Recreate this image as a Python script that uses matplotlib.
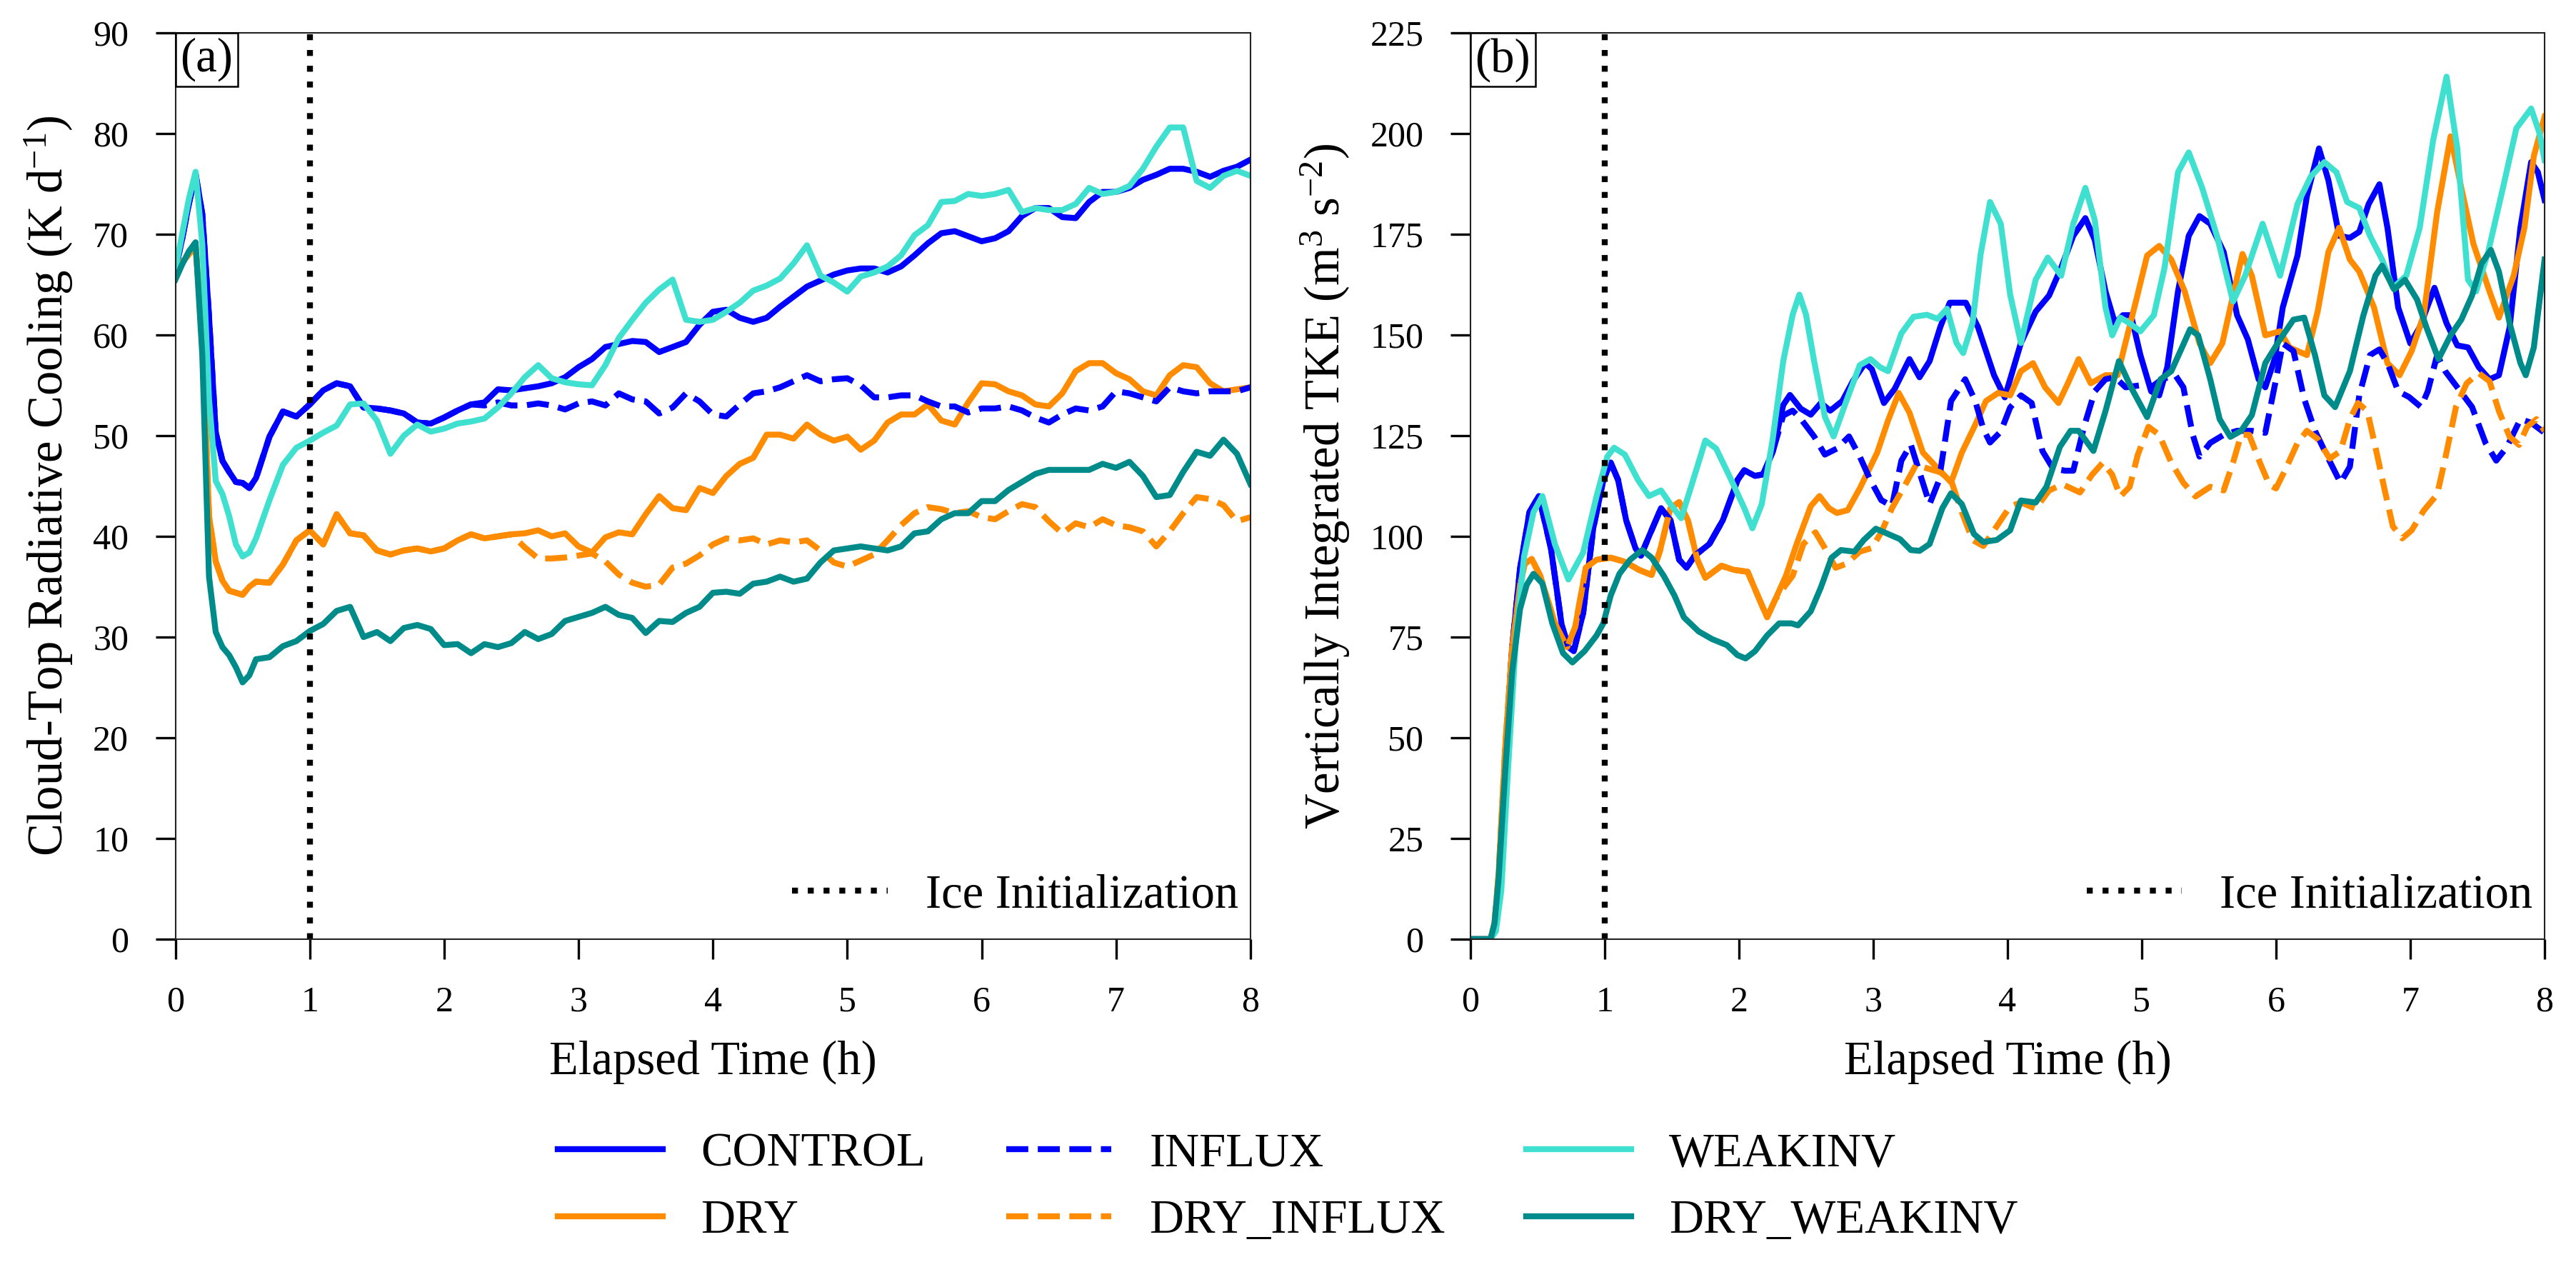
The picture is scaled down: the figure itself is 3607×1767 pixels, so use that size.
import numpy as np
import matplotlib
matplotlib.use('Agg')
import matplotlib.pyplot as plt
from matplotlib.offsetbox import AnchoredText

plt.rcParams['font.family'] = ['Liberation Serif', 'DejaVu Serif']
plt.rcParams['mathtext.fontset'] = 'custom'
plt.rcParams['mathtext.rm'] = 'Liberation Serif'
plt.rcParams['mathtext.it'] = 'Liberation Serif:italic'

# ---- panel (a): cloud-top radiative cooling (K/day), common time grid ----
hours_a = np.round(np.concatenate([np.arange(0, 0.6, 0.05), np.arange(0.6, 8.01, 0.1)]), 2)

control_a = [66.5, 69.5, 73.0, 76.0, 72.0, 61.8, 50.3, 47.5, 46.4, 45.4, 45.3, 44.8,
             45.8, 49.9, 52.4, 51.9, 53.1, 54.5, 55.2, 54.9, 52.8, 52.7,
             52.5, 52.2, 51.3, 51.2, 51.8, 52.5, 53.1, 53.3, 54.6, 54.5,
             54.7, 54.9, 55.2, 55.8, 56.8, 57.6, 58.8, 59.1, 59.4, 59.3,
             58.3, 58.8, 59.3, 61.0, 62.3, 62.5, 61.7, 61.3, 61.7, 62.8,
             63.8, 64.8, 65.4, 66.0, 66.4, 66.6, 66.6, 66.2, 66.8, 67.9,
             69.1, 70.1, 70.3, 69.8, 69.3, 69.6, 70.3, 71.8, 72.6, 72.6,
             71.7, 71.6, 73.2, 74.2, 74.2, 74.6, 75.4, 75.9, 76.5, 76.5,
             76.2, 75.7, 76.3, 76.7, 77.4]
weakinv_a = [66.5, 70.0, 73.5, 76.2, 69.0, 53.6, 45.5, 44.2, 42.0, 39.2, 38.0, 38.4,
             39.8, 43.6, 47.1, 48.8, 49.5, 50.3, 51.0, 53.1, 53.2, 51.5,
             48.2, 50.0, 51.1, 50.4, 50.7, 51.2, 51.4, 51.7, 52.8, 54.2,
             55.8, 57.0, 55.7, 55.3, 55.1, 55.0, 57.0, 59.7, 61.5, 63.2,
             64.5, 65.5, 61.5, 61.3, 61.5, 62.3, 63.2, 64.4, 64.9, 65.6,
             67.1, 68.9, 65.9, 65.2, 64.3, 65.8, 66.2, 66.8, 67.9, 69.9,
             70.9, 73.2, 73.3, 74.0, 73.8, 74.0, 74.4, 72.2, 72.6, 72.4,
             72.4, 73.0, 74.6, 74.0, 74.2, 74.8, 76.5, 78.7, 80.6, 80.6,
             75.3, 74.6, 75.8, 76.3, 75.8]
dry_a = [66.2, 67.2, 68.0, 68.8, 60.0, 42.0, 37.5, 35.6, 34.6, 34.4, 34.2, 35.0,
         35.5, 35.4, 37.2, 39.6, 40.6, 39.2, 42.2, 40.3, 40.1, 38.6,
         38.2, 38.6, 38.8, 38.5, 38.8, 39.6, 40.2, 39.8, 40.0, 40.2,
         40.3, 40.6, 40.0, 40.3, 39.0, 38.4, 39.9, 40.4, 40.2, 42.2,
         44.0, 42.8, 42.6, 44.8, 44.3, 46.0, 47.2, 47.8, 50.1, 50.1,
         49.7, 51.1, 50.1, 49.5, 49.9, 48.6, 49.5, 51.3, 52.1, 52.1,
         53.1, 51.5, 51.1, 53.3, 55.2, 55.1, 54.4, 54.0, 53.1, 52.9,
         54.2, 56.4, 57.2, 57.2, 56.2, 55.6, 54.4, 54.0, 56.0, 57.0,
         56.8, 55.2, 54.4, 54.6, 54.8]
influx_a = [66.5, 69.5, 73.0, 76.0, 72.0, 61.8, 50.3, 47.5, 46.4, 45.4, 45.3, 44.8,
            45.8, 49.9, 52.4, 51.9, 53.1, 54.5, 55.2, 54.9, 52.8, 52.7,
            52.5, 52.2, 51.3, 51.2, 51.8, 52.5, 53.1, 53.0, 53.3, 53.0,
            53.0, 53.2, 53.0, 52.6, 53.2, 53.4, 53.0, 54.2, 53.6, 53.4,
            52.2, 52.8, 54.2, 53.4, 52.1, 51.9, 53.1, 54.2, 54.4, 54.8,
            55.4, 56.0, 55.4, 55.6, 55.7, 55.0, 53.8, 53.8, 54.0, 54.0,
            53.4, 52.9, 52.9, 52.3, 52.7, 52.7, 52.9, 52.5, 51.8, 51.3,
            52.1, 52.7, 52.5, 52.9, 54.4, 54.2, 53.8, 53.4, 54.8, 54.4,
            54.2, 54.4, 54.4, 54.4, 54.8]
dry_influx_a = [66.2, 67.2, 68.0, 68.8, 60.0, 42.0, 37.5, 35.6, 34.6, 34.4, 34.2, 35.0,
                35.5, 35.4, 37.2, 39.6, 40.6, 39.2, 42.2, 40.3, 40.1, 38.6,
                38.2, 38.6, 38.8, 38.5, 38.8, 39.6, 40.2, 39.8, 40.0, 40.2,
                38.9, 37.8, 37.8, 37.9, 38.1, 38.3, 37.5, 36.2, 35.4, 35.0,
                35.2, 36.9, 37.3, 38.1, 39.2, 39.8, 39.6, 39.8, 39.2, 39.6,
                39.4, 39.6, 38.6, 37.4, 37.0, 37.6, 38.2, 39.6, 41.1, 42.3,
                42.9, 42.7, 42.3, 42.5, 41.9, 41.7, 42.5, 43.2, 42.9, 41.5,
                40.3, 41.3, 40.9, 41.7, 41.1, 40.9, 40.5, 39.0, 40.5, 42.3,
                43.9, 43.7, 43.1, 41.5, 41.9]
dry_weakinv_a = [65.5, 67.0, 68.3, 69.2, 58.0, 36.0, 30.5, 29.0, 28.2, 27.0, 25.5, 26.2,
                 27.8, 28.0, 29.1, 29.6, 30.6, 31.3, 32.6, 33.0, 30.0, 30.5,
                 29.6, 30.9, 31.2, 30.8, 29.2, 29.3, 28.4, 29.3, 29.0, 29.4,
                 30.5, 29.8, 30.3, 31.6, 32.0, 32.4, 33.0, 32.2, 31.9, 30.4,
                 31.6, 31.5, 32.4, 33.0, 34.4, 34.5, 34.3, 35.3, 35.5, 36.0,
                 35.5, 35.8, 37.4, 38.6, 38.8, 39.0, 38.8, 38.6, 39.0, 40.3,
                 40.5, 41.7, 42.3, 42.3, 43.5, 43.5, 44.6, 45.4, 46.2, 46.6,
                 46.6, 46.6, 46.6, 47.2, 46.8, 47.4, 46.0, 43.9, 44.1, 46.4,
                 48.4, 48.0, 49.6, 48.2, 45.2]

# ---- panel (b): vertically integrated TKE (m3/s2), (hour, value) pairs ----
control_b = [(0, 0), (0.15, 0), (0.18, 3), (0.21, 14), (0.26, 45), (0.31, 72), (0.37, 92),
             (0.44, 106), (0.51, 110), (0.60, 97), (0.68, 78), (0.73, 72.5), (0.77, 71.5),
             (0.84, 81), (0.915, 102), (0.99, 114), (1.045, 118.3), (1.10, 114), (1.16, 104),
             (1.23, 97), (1.27, 95.2), (1.33, 100), (1.42, 107), (1.49, 104), (1.555, 94.2),
             (1.61, 92.2), (1.67, 95.2), (1.78, 98.1), (1.88, 104), (1.99, 114), (2.04, 116.4),
             (2.12, 115), (2.18, 115.4), (2.25, 120.8), (2.33, 132.6), (2.38, 135.1),
             (2.46, 131.7), (2.535, 130.2), (2.61, 133.1), (2.68, 131.2), (2.77, 133.6),
             (2.85, 138.6), (2.94, 143), (2.99, 141.5), (3.08, 133.1), (3.16, 136.6),
             (3.27, 144), (3.345, 139.5), (3.42, 143.5), (3.50, 152), (3.57, 158), (3.69, 158),
             (3.78, 152), (3.90, 140), (3.98, 134.5), (4.10, 148), (4.21, 155.8), (4.31, 159.8),
             (4.40, 166.7), (4.49, 174.6), (4.58, 179), (4.65, 173.6), (4.73, 160.8),
             (4.80, 152.9), (4.86, 154.9), (4.92, 154.9), (4.99, 145), (5.07, 136), (5.13, 135),
             (5.19, 142), (5.27, 160.8), (5.35, 174.6), (5.43, 179.5), (5.51, 177.6),
             (5.61, 170.6), (5.71, 154.9), (5.79, 148.9), (5.87, 139), (5.92, 137), (5.99, 144),
             (6.05, 156.8), (6.16, 169.7), (6.23, 184.5), (6.32, 196.3), (6.39, 188.4),
             (6.47, 174.6), (6.55, 174.1), (6.62, 175.6), (6.69, 182.5), (6.77, 187.4),
             (6.83, 176.6), (6.91, 156.8), (7.00, 147.9), (7.07, 151.9), (7.18, 161.7),
             (7.27, 152.9), (7.35, 147.4), (7.43, 146.9), (7.51, 142), (7.59, 139), (7.66, 140),
             (7.74, 151.9), (7.82, 176.6), (7.90, 192.9), (7.95, 190.4), (8.00, 183.5)]
weakinv_b = [(0, 0), (0.15, 0), (0.19, 2), (0.23, 12), (0.28, 42), (0.34, 75), (0.40, 95),
             (0.47, 106), (0.536, 110), (0.63, 98), (0.73, 89.3), (0.84, 96), (0.94, 110),
             (1.02, 119.8), (1.07, 122), (1.15, 120.3), (1.25, 113.9), (1.33, 110), (1.42, 111.4),
             (1.49, 108), (1.57, 104.5), (1.65, 113), (1.75, 123.8), (1.83, 121.8), (1.93, 114.9),
             (2.04, 107), (2.10, 102), (2.17, 108), (2.25, 123.8), (2.33, 143.5), (2.40, 155),
             (2.45, 160), (2.50, 155), (2.56, 143.5), (2.64, 129.7), (2.705, 124.8), (2.80, 133.6),
             (2.90, 142.5), (2.98, 144), (3.05, 142), (3.11, 141), (3.21, 150.4), (3.30, 154.5),
             (3.40, 155), (3.48, 154), (3.55, 156.5), (3.62, 148), (3.67, 145.5), (3.74, 153),
             (3.80, 170), (3.87, 183), (3.95, 177.6), (4.02, 160), (4.10, 148), (4.21, 163.7),
             (4.30, 169.2), (4.40, 164.7), (4.49, 177.6), (4.58, 186.5), (4.65, 178.5),
             (4.73, 156.8), (4.78, 149.9), (4.84, 154.3), (4.91, 152.9), (4.99, 150.9),
             (5.09, 154.9), (5.17, 166.7), (5.27, 190.4), (5.35, 195.3), (5.45, 186.5),
             (5.56, 174.6), (5.68, 158.3), (5.77, 164.7), (5.90, 177.6), (6.03, 164.7),
             (6.16, 182.5), (6.26, 189.4), (6.36, 192.9), (6.45, 190.4), (6.53, 183),
             (6.62, 181.5), (6.70, 174.6), (6.79, 168.7), (6.87, 161.7), (6.97, 164.7),
             (7.07, 176.6), (7.17, 198.3), (7.27, 214.1), (7.35, 196.3), (7.43, 163.7),
             (7.49, 160.8), (7.58, 170.6), (7.69, 186.5), (7.79, 201.3), (7.90, 206.2),
             (7.96, 200.3), (8.00, 193.4)]
dry_b = [(0, 0), (0.15, 0), (0.18, 4), (0.21, 16), (0.26, 48), (0.31, 72), (0.37, 88),
         (0.405, 93.2), (0.457, 94.4), (0.52, 90.2), (0.63, 78.4), (0.72, 72.5), (0.78, 77.4),
         (0.86, 92.2), (0.94, 94.2), (1.045, 94.7), (1.15, 93.7), (1.255, 91.7), (1.35, 90.4),
         (1.41, 96.2), (1.49, 107), (1.555, 108.5), (1.62, 104), (1.69, 94.2), (1.75, 89.7),
         (1.87, 92.7), (1.96, 91.7), (2.065, 91.2), (2.14, 85.3), (2.21, 79.9), (2.27, 84.3),
         (2.35, 90.2), (2.43, 98.1), (2.535, 107.5), (2.60, 110), (2.67, 107), (2.73, 105.8),
         (2.81, 106.5), (2.90, 111.9), (3.03, 120.8), (3.11, 128.7), (3.19, 135.6),
         (3.27, 130.7), (3.37, 120.8), (3.48, 116.9), (3.58, 113.4), (3.66, 120.8),
         (3.76, 127.7), (3.84, 133.6), (3.93, 135.6), (4.02, 135), (4.10, 141), (4.19, 143),
         (4.28, 137), (4.38, 133.1), (4.45, 138), (4.53, 144), (4.62, 138), (4.73, 140),
         (4.82, 140), (4.87, 146.9), (4.96, 158.8), (5.04, 169.7), (5.13, 172.1), (5.22, 168.7),
         (5.32, 160.8), (5.43, 147.9), (5.51, 143), (5.60, 147.9), (5.68, 159.8), (5.75, 170.1),
         (5.82, 164.7), (5.92, 149.9), (6.03, 150.9), (6.10, 146.9), (6.23, 145), (6.31, 155.8),
         (6.39, 170.6), (6.47, 176.6), (6.55, 168.7), (6.62, 165.7), (6.73, 156.8), (6.83, 143),
         (6.92, 140), (7.01, 146), (7.10, 154.9), (7.20, 180.5), (7.30, 199.3), (7.38, 186.5),
         (7.47, 172.6), (7.59, 160.8), (7.66, 154.3), (7.77, 164.7), (7.85, 176.6),
         (7.92, 194.4), (8.00, 204.2)]
influx_b = [(0, 0), (0.15, 0), (0.18, 3), (0.21, 14), (0.26, 45), (0.31, 72), (0.37, 92),
            (0.44, 106), (0.51, 110), (0.60, 97), (0.68, 78), (0.73, 72.5), (0.77, 71.5),
            (0.84, 81), (0.915, 102), (0.99, 114), (1.045, 118.3), (1.10, 114), (1.16, 104),
            (1.23, 97), (1.27, 95.2), (1.33, 100), (1.42, 107), (1.49, 104), (1.555, 94.2),
            (1.61, 92.2), (1.67, 95.2), (1.78, 98.1), (1.88, 104), (1.99, 114), (2.04, 116.4),
            (2.12, 115), (2.18, 115.4), (2.25, 120.8), (2.33, 130), (2.40, 131.2), (2.46, 129.2),
            (2.56, 124.8), (2.64, 120.3), (2.73, 121.8), (2.82, 124.8), (2.90, 119.8),
            (2.98, 113.9), (3.06, 109), (3.14, 107.5), (3.21, 118.8), (3.28, 122.8),
            (3.345, 115.9), (3.42, 108), (3.49, 113.9), (3.58, 133.6), (3.685, 139),
            (3.76, 133.6), (3.82, 126.7), (3.87, 123.3), (3.95, 126), (4.02, 132), (4.10, 135),
            (4.18, 133.1), (4.26, 121.2), (4.34, 116.8), (4.43, 116.3), (4.49, 116.3),
            (4.57, 127.2), (4.65, 136), (4.73, 139), (4.80, 139.5), (4.88, 137), (4.99, 137.5),
            (5.07, 137), (5.15, 139), (5.25, 140), (5.31, 137), (5.38, 125.2), (5.43, 119.8),
            (5.51, 123.2), (5.61, 125.2), (5.71, 126.2), (5.82, 126.2), (5.92, 125.7),
            (6.00, 139), (6.05, 147.9), (6.13, 146), (6.21, 134.1), (6.29, 126.2), (6.39, 119.3),
            (6.48, 113.3), (6.55, 117.3), (6.62, 135), (6.70, 145), (6.77, 146.4), (6.83, 143),
            (6.91, 136), (6.99, 134.6), (7.08, 132.1), (7.13, 136), (7.20, 145), (7.26, 141),
            (7.35, 137), (7.46, 132.1), (7.56, 123.2), (7.64, 118.8), (7.72, 122.2),
            (7.82, 129.1), (7.90, 128.2), (8.00, 125.7)]
dry_influx_b = [(0, 0), (0.15, 0), (0.18, 4), (0.21, 16), (0.26, 48), (0.31, 72), (0.37, 88),
                (0.405, 93.2), (0.457, 94.4), (0.52, 90.2), (0.63, 78.4), (0.72, 72.5),
                (0.78, 77.4), (0.86, 92.2), (0.94, 94.2), (1.045, 94.7), (1.15, 93.7),
                (1.255, 91.7), (1.35, 90.4), (1.41, 96.2), (1.49, 107), (1.555, 108.5),
                (1.62, 104), (1.69, 94.2), (1.75, 89.7), (1.87, 92.7), (1.96, 91.7),
                (2.065, 91.2), (2.14, 85.3), (2.21, 79.9), (2.27, 84.3), (2.35, 88),
                (2.40, 90.2), (2.48, 98.1), (2.57, 101), (2.64, 97.1), (2.72, 92.2), (2.80, 93.2),
                (2.90, 96.2), (2.99, 97.1), (3.06, 101), (3.14, 107), (3.24, 112.9), (3.32, 117.8),
                (3.40, 116.9), (3.50, 115.9), (3.58, 113.9), (3.66, 106), (3.74, 99.1),
                (3.82, 97.6), (3.89, 101), (3.97, 105), (4.02, 107.4), (4.10, 108.4),
                (4.21, 106.9), (4.31, 111.4), (4.41, 112.9), (4.54, 110.9), (4.63, 115.3),
                (4.71, 118.3), (4.78, 115.3), (4.84, 109.9), (4.91, 112.3), (4.97, 120.2),
                (5.05, 127.2), (5.13, 125.2), (5.22, 118.3), (5.31, 113.3), (5.40, 109.9),
                (5.51, 112.3), (5.61, 111.4), (5.68, 118.3), (5.74, 125.2), (5.80, 125.2),
                (5.88, 118.3), (5.95, 112.8), (6.00, 111.9), (6.08, 117.3), (6.16, 123.2),
                (6.23, 126.2), (6.31, 124.2), (6.40, 119.3), (6.48, 121.2), (6.55, 129.1),
                (6.61, 133.1), (6.68, 131.1), (6.74, 122.2), (6.81, 111.4), (6.87, 102.5),
                (6.94, 99.5), (7.01, 101.5), (7.10, 106.4), (7.20, 110.4), (7.26, 119.3),
                (7.34, 132.1), (7.42, 138), (7.51, 140.5), (7.59, 138.5), (7.66, 131.1),
                (7.74, 124.7), (7.81, 122.7), (7.87, 127.2), (7.94, 129.1), (8.00, 126.2)]
dry_weakinv_b = [(0, 0), (0.15, 0), (0.18, 4), (0.21, 15), (0.26, 42), (0.31, 66), (0.37, 82),
                 (0.42, 88), (0.47, 90.7), (0.536, 88.3), (0.61, 78.4), (0.69, 71), (0.76, 68.7),
                 (0.85, 71.5), (0.94, 75.4), (0.99, 78.4), (1.045, 85.3), (1.11, 90.7),
                 (1.19, 94.2), (1.28, 96.6), (1.35, 94.7), (1.44, 90.2), (1.52, 85.3),
                 (1.59, 79.9), (1.70, 76.4), (1.80, 74.5), (1.91, 73.0), (1.99, 70.5),
                 (2.05, 69.7), (2.12, 71.5), (2.21, 75.4), (2.30, 78.4), (2.39, 78.4),
                 (2.44, 77.9), (2.535, 81.4), (2.61, 87.3), (2.69, 94.7), (2.76, 96.6),
                 (2.86, 96.2), (2.93, 99.1), (3.02, 101.9), (3.11, 100.6), (3.20, 99.3),
                 (3.28, 96.6), (3.345, 96.4), (3.42, 98.1), (3.515, 107), (3.58, 110.7),
                 (3.66, 108), (3.75, 100.6), (3.82, 98.6), (3.92, 99.1), (4.02, 101.5),
                 (4.10, 108.9), (4.21, 108.4), (4.29, 112.3), (4.39, 122.2), (4.47, 126.2),
                 (4.53, 126.2), (4.64, 121.2), (4.73, 131.1), (4.83, 143.5), (4.92, 137),
                 (5.04, 129.6), (5.14, 139), (5.22, 141), (5.30, 146.9), (5.36, 151.4),
                 (5.42, 149.9), (5.51, 139), (5.58, 129.1), (5.66, 124.7), (5.74, 126.2),
                 (5.82, 130.1), (5.92, 143), (6.03, 148.9), (6.13, 153.8), (6.21, 154.3),
                 (6.29, 145), (6.36, 135), (6.44, 132.1), (6.55, 141), (6.65, 154.8),
                 (6.74, 164.7), (6.79, 167.2), (6.88, 161.3), (6.96, 163.7), (7.05, 158.8),
                 (7.12, 151.9), (7.21, 144), (7.30, 149.9), (7.38, 153.8), (7.46, 159.8),
                 (7.53, 167.7), (7.60, 171.1), (7.66, 165.7), (7.74, 152.9), (7.82, 143),
                 (7.86, 140), (7.92, 146.9), (8.00, 168.7)]

names = ['CONTROL', 'DRY', 'INFLUX', 'DRY_INFLUX', 'WEAKINV', 'DRY_WEAKINV']
colors = ['#0000ff', '#ff8c00', '#0000ff', '#ff8c00', '#40e0d0', '#008b8b']
styles = ['-', '-', '--', '--', '-', '-']
series_a = [control_a, dry_a, influx_a, dry_influx_a, weakinv_a, dry_weakinv_a]
series_b = [control_b, dry_b, influx_b, dry_influx_b, weakinv_b, dry_weakinv_b]

fig = plt.figure(figsize=(3607 / 300, 1767 / 300), dpi=300)
ax_a = fig.add_axes([0.0681, 0.2558, 0.4173, 0.7182])
ax_b = fig.add_axes([0.5708, 0.2558, 0.4170, 0.7182])

for vals, name, c, ls in zip(series_a, names, colors, styles):
    ax_a.plot(hours_a, vals, color=c, ls=ls, lw=2.0, label=name)

for pairs, name, c, ls in zip(series_b, names, colors, styles):
    t, v = np.array(pairs).T
    ax_b.plot(t, v, color=c, ls=ls, lw=2.0, label=name)


def style_axes(ax, ymax, ystep, ylabel, tag):
    ax.set_xlim(0, 8)
    ax.set_ylim(0, ymax)
    ax.set_xticks(range(9))
    ax.set_yticks(np.arange(0, ymax + 1, ystep))
    ax.tick_params(direction='out', length=6.7, width=0.8, pad=9, labelsize=12,
                   top=False, right=False)
    for s in ax.spines.values():
        s.set_linewidth(0.5)
        s.set_color('#222222')
    ax.set_xlabel('Elapsed Time (h)', fontsize=16, labelpad=7)
    ax.set_ylabel(ylabel, fontsize=16.5, labelpad=6)
    box = AnchoredText(tag, loc='upper left', prop=dict(size=16), pad=0.1,
                       borderpad=0, frameon=True)
    box.patch.set_boxstyle('square,pad=0')
    box.patch.set_linewidth(0.6)
    ax.add_artist(box)
    ice = ax.axvline(1, color='black', ls=':', lw=2.0, label='Ice Initialization')
    ax.legend(handles=[ice], loc='lower right', frameon=False, fontsize=16,
              handlelength=2.0, borderpad=0, borderaxespad=0,
              bbox_to_anchor=(0.989, 0.024))


style_axes(ax_a, 90, 10, 'Cloud-Top Radiative Cooling (K d$^{-1}$)', '(a)')
style_axes(ax_b, 225, 25, 'Vertically Integrated TKE (m$^{3}$ s$^{-2}$)', '(b)')

handles, labels = ax_a.get_legend_handles_labels()
fig.legend(handles[:6], labels[:6], ncol=3, loc='center', bbox_to_anchor=(0.5, 0.059),
           frameon=False, fontsize=16, handlelength=2.2, columnspacing=1.7,
           handletextpad=0.8)

fig.savefig('out.png', dpi=300)
